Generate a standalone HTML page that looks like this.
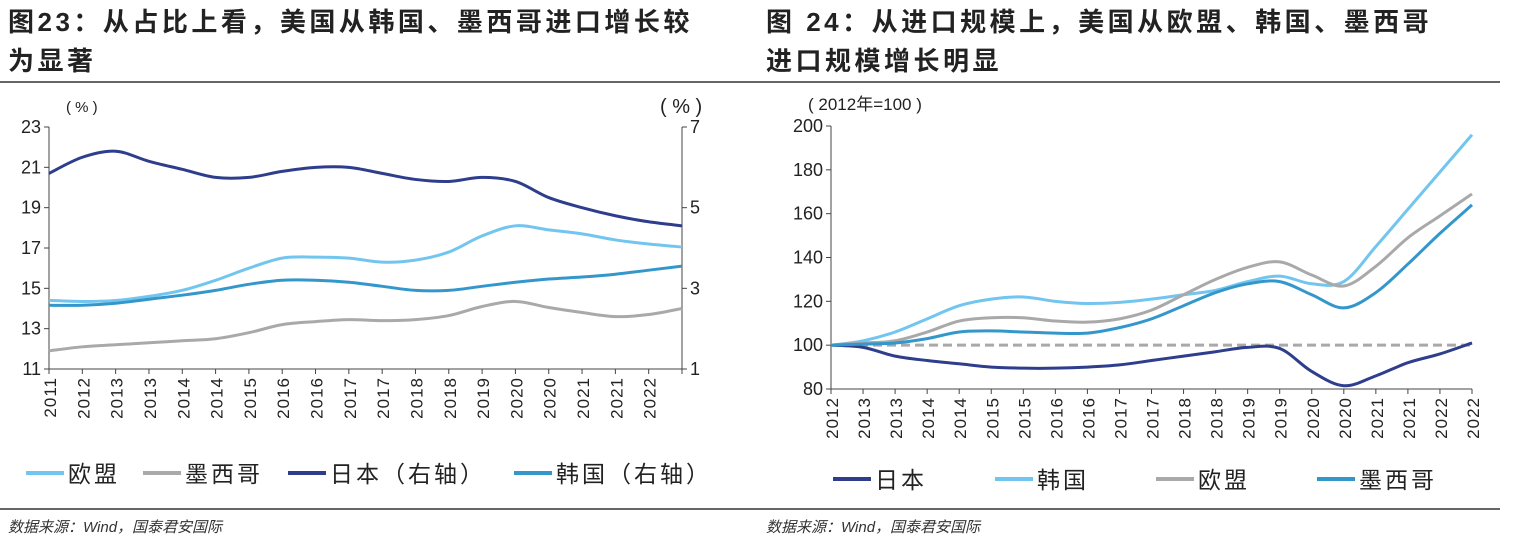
<!DOCTYPE html>
<html><head><meta charset="utf-8"><style>
body{margin:0;background:#fff;width:1514px;height:552px;overflow:hidden;font-family:"Liberation Sans","Noto Sans CJK SC",sans-serif}
svg{position:absolute;left:0;top:0}
</style></head><body>
<svg id="s" width="1514" height="552" font-family="Liberation Sans, Noto Sans CJK SC, sans-serif">
<text x="8" y="31" font-size="26" font-weight="bold" letter-spacing="3.5" fill="#222">图23：从占比上看，美国从韩国、墨西哥进口增长较</text>
<text x="8" y="70" font-size="26" font-weight="bold" letter-spacing="3.5" fill="#222">为显著</text>
<text x="766" y="31" font-size="26" font-weight="bold" letter-spacing="3.5" fill="#222">图 24：从进口规模上，美国从欧盟、韩国、墨西哥</text>
<text x="766" y="70" font-size="26" font-weight="bold" letter-spacing="3.5" fill="#222">进口规模增长明显</text>
<line x1="0" y1="82" x2="1500" y2="82" stroke="#666" stroke-width="2"/>
<line x1="0" y1="509" x2="1500" y2="509" stroke="#666" stroke-width="2"/>
<text x="8" y="532" font-size="15" font-style="italic" fill="#333">数据来源：Wind，国泰君安国际</text>
<text x="766" y="532" font-size="15" font-style="italic" fill="#333">数据来源：Wind，国泰君安国际</text>
<g id="L"></g><g id="R"></g>
</svg>
<script>
const leftXLabels=["2011","2012","2013","2013","2014","2014","2015","2016","2016","2017","2017","2018","2018","2019","2020","2020","2021","2021","2022"];
const leftTicks=[11,13,15,17,19,21,23];
const rightTicks=[1,3,5,7];
const euShare=[14.4,14.35,14.4,14.6,14.9,15.4,16.0,16.5,16.55,16.5,16.3,16.4,16.8,17.6,18.1,17.9,17.7,17.4,17.2,17.05];
const mexShare=[11.9,12.1,12.2,12.3,12.4,12.5,12.8,13.2,13.35,13.45,13.4,13.45,13.65,14.1,14.35,14.05,13.8,13.6,13.7,14.0];
const jpShare=[5.85,6.25,6.4,6.15,5.95,5.75,5.75,5.9,6.0,6.0,5.85,5.7,5.65,5.75,5.65,5.25,5.0,4.8,4.65,4.55];
const krShare=[2.58,2.58,2.63,2.73,2.83,2.95,3.1,3.2,3.2,3.15,3.05,2.95,2.95,3.05,3.15,3.23,3.28,3.35,3.45,3.55];
const rightXLabels=["2012","2013","2013","2014","2014","2015","2015","2016","2016","2017","2017","2018","2018","2019","2019","2020","2020","2021","2021","2022","2022"];
const idxTicks=[80,100,120,140,160,180,200];
const jpIdx=[100,99,95,93,91.5,90,89.5,89.5,90,91,93,95,97,99,98.5,88,81.5,86,92,96,101];
const krIdx=[100,102,106,112,118,121,122,120,119,119.5,121,123,125,129,131.5,128,129,145,162,179,196];
const euIdx=[100,101,102,106,111,112.5,112.5,111,110.5,112,116,123,130,135.5,138,132,127,136,149,159,169];
const mxIdx=[100,100.5,101,103,106,106.5,106,105.5,105.5,108,112,118,124,128,129,123,117,124,137,151,164];
const NS="http://www.w3.org/2000/svg";
function el(p,t,a){const e=document.createElementNS(NS,t);for(const k in a)e.setAttribute(k,a[k]);p.appendChild(e);return e;}
function path(pts){let d="M"+pts[0][0]+","+pts[0][1];for(let i=0;i<pts.length-1;i++){const p0=pts[i-1]||pts[i],p1=pts[i],p2=pts[i+1],p3=pts[i+2]||p2;d+=" C"+(p1[0]+(p2[0]-p0[0])/6)+","+(p1[1]+(p2[1]-p0[1])/6)+" "+(p2[0]-(p3[0]-p1[0])/6)+","+(p2[1]-(p3[1]-p1[1])/6)+" "+p2[0]+","+p2[1];}return d;}
const C={eu:"#72C5EE",mx:"#A9A9A9",jp:"#2E3E8C",kr:"#3497CC"};
const L=document.getElementById("L");
const lx0=49,lx1=682,ly0=369,ly1=127;
const lx=i=>lx0+i*(lx1-lx0)/19;
const ly=v=>ly0-(v-11)/12*(ly0-ly1);
const ry=v=>ly0-(v-1)/6*(ly0-ly1);
let a=el(L,"line",{x1:lx0,y1:ly1,x2:lx0,y2:ly0,stroke:"#444"});
a=el(L,"line",{x1:lx1,y1:ly1,x2:lx1,y2:ly0,stroke:"#444"});
a=el(L,"line",{x1:lx0,y1:ly0,x2:lx1,y2:ly0,stroke:"#444"});
leftTicks.forEach(v=>{el(L,"line",{x1:lx0-5,y1:ly(v),x2:lx0,y2:ly(v),stroke:"#444"});const t=el(L,"text",{x:lx0-8,y:ly(v)+6,"font-size":18,"text-anchor":"end",fill:"#222"});t.textContent=v;});
rightTicks.forEach(v=>{el(L,"line",{x1:lx1,y1:ry(v),x2:lx1+5,y2:ry(v),stroke:"#444"});const t=el(L,"text",{x:lx1+8,y:ry(v)+6,"font-size":18,fill:"#222"});t.textContent=v;});
for(let i=0;i<20;i++)el(L,"line",{x1:lx(i),y1:ly0,x2:lx(i),y2:ly0+5,stroke:"#444"});
leftXLabels.forEach((s,i)=>{const t=el(L,"text",{transform:`translate(${lx(i)+7},${ly0+8}) rotate(-90)`,"font-size":17,"text-anchor":"end",fill:"#222","letter-spacing":"1"});t.textContent=s;});
let u=el(L,"text",{x:66,y:112,"font-size":15,fill:"#222"});u.textContent="( % )";
u=el(L,"text",{x:660,y:113,"font-size":20,fill:"#222"});u.textContent="( % )";
[[euShare,ly,C.eu,"eu-share-line"],[mexShare,ly,C.mx,"mexico-share-line"],[jpShare,ry,C.jp,"japan-share-line"],[krShare,ry,C.kr,"korea-share-line"]].forEach(([d,f,c,n])=>{const p=el(L,"path",{d:path(d.map((v,i)=>[lx(i),f(v)])),fill:"none",stroke:c,"stroke-width":3});});
const R=document.getElementById("R");
const rx0=831,rx1=1472,yy0=389,yy1=126;
const rx=i=>rx0+i*(rx1-rx0)/20;
const iy=v=>yy0-(v-80)/120*(yy0-yy1);
a=el(R,"line",{x1:rx0,y1:yy1,x2:rx0,y2:yy0,stroke:"#444"});
a=el(R,"line",{x1:rx0,y1:yy0,x2:rx1,y2:yy0,stroke:"#444"});
idxTicks.forEach(v=>{el(R,"line",{x1:rx0-5,y1:iy(v),x2:rx0,y2:iy(v),stroke:"#444"});const t=el(R,"text",{x:rx0-8,y:iy(v)+6,"font-size":18,"text-anchor":"end",fill:"#222"});t.textContent=v;});
rightXLabels.forEach((s,i)=>{el(R,"line",{x1:rx(i),y1:yy0,x2:rx(i),y2:yy0+5,stroke:"#444"});const t=el(R,"text",{transform:`translate(${rx(i)+7},${yy0+8}) rotate(-90)`,"font-size":17,"text-anchor":"end",fill:"#222","letter-spacing":"1"});t.textContent=s;});
u=el(R,"text",{x:808,y:110,"font-size":17,fill:"#222"});u.textContent="( 2012年=100 )";
a=el(R,"line",{x1:rx0,y1:iy(100),x2:rx1,y2:iy(100),stroke:"#A9A9A9","stroke-width":3,"stroke-dasharray":"9 5"});
[[jpIdx,C.jp,"japan-index-line"],[krIdx,C.eu,"korea-index-line"],[euIdx,C.mx,"eu-index-line"],[mxIdx,C.kr,"mexico-index-line"]].forEach(([d,c,n])=>{const p=el(R,"path",{d:path(d.map((v,i)=>[rx(i),iy(v)])),fill:"none",stroke:c,"stroke-width":3});});
function leg(g,x,y,c,s){const gg=el(g,"g",{});el(gg,"line",{x1:x,y1:y,x2:x+38,y2:y,stroke:c,"stroke-width":4});const t=el(gg,"text",{x:x+42,y:y+9,"font-size":23,"letter-spacing":"3",fill:"#222"});t.textContent=s;}
leg(L,26,473,C.eu,"欧盟");leg(L,143,473,C.mx,"墨西哥");leg(L,288,473,C.jp,"日本（右轴）");leg(L,514,473,C.kr,"韩国（右轴）");
leg(R,833,479,C.jp,"日本");leg(R,995,479,C.eu,"韩国");leg(R,1156,479,C.mx,"欧盟");leg(R,1317,479,C.kr,"墨西哥");
</script>
</body></html>
